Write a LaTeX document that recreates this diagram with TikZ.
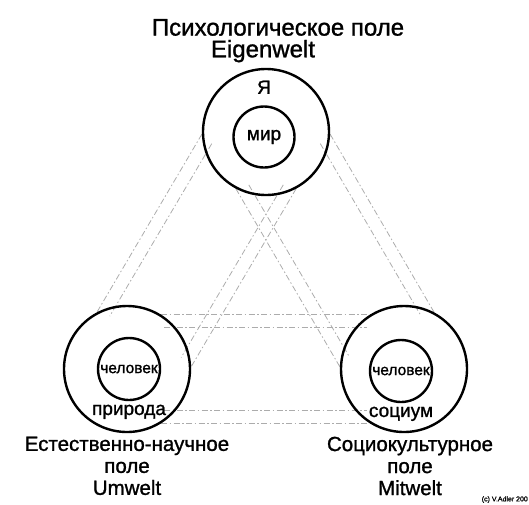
\documentclass[tikz,border=0pt]{standalone}
\usepackage{fontspec}
\setmainfont{Liberation Sans}[FakeBold=1.2]
\usepackage{tikz}
\usetikzlibrary{positioning}
\usetikzlibrary{backgrounds}
\tikzset{ring/.style={circle,draw,line width=2.4pt,inner sep=0pt}}
\tikzset{link/.style={draw=gray!65,line width=0.8pt,dash pattern=on 6pt off 2.5pt on 1.5pt off 2.5pt}}
\tikzset{deep/.style={link,shorten <=-12pt,shorten >=-12pt}}
\newcommand{\fs}[1]{\fontsize{#1}{#1}\selectfont}

\begin{document}
\begin{tikzpicture}[x=1pt,y=-1pt]
            \useasboundingbox (0,0) rectangle (529,504);
            \node (Eout) [ring,minimum size=126pt] at (266,132) {};
            \node (Ein)  [ring,minimum size=61pt]  at (264,137) {\fs{19}мир};
            \node (Uout) [ring,minimum size=126pt] at (127,369) {};
            \node (Uin)  [ring,minimum size=62pt]  at (129,369) {\fs{15.5}человек};
            \node (Mout) [ring,minimum size=126pt] at (404,369) {};
            \node (Min)  [ring,minimum size=62pt]  at (401,371) {\fs{15.5}человек};

            \node (self)    [above=8pt of Ein]                {\fs{19}Я};
            \node (nature)  [below=0pt of Uin]                {\fs{19}природа};
            \node (society) [below=0pt of Min]                {\fs{19}социум};

            \node (Ename)  [above=2pt of Eout,xshift=-3pt]    {\fs{24}Eigenwelt};
            \node (Etitle) [above=-3pt of Ename,xshift=15pt]  {\fs{24}Психологическое поле};
            \node (Uname)  [below=0pt of Uout,align=center,font=\fontsize{20.5}{22}\selectfont]
                           {Естественно-научное\\поле\\Umwelt};
            \node (Mname)  [below=0pt of Mout,xshift=6pt,align=center,font=\fontsize{20.5}{22}\selectfont]
                           {Социокультурное\\поле\\Mitwelt};
            \node (copy) [anchor=south east,inner sep=1pt] at (529,504) {\fs{7}(c) V.Adler 200};

            \begin{scope}[on background layer]
                \draw[link] (Eout.182) -- (Uout.118);
                \draw[deep] (Eout.200) -- (Uout.100);
                \draw[deep] (Eout.280) -- (Uout.20);
                \draw[link] (Eout.298) -- (Uout.2);
                \draw[link] (Eout.242) -- (Mout.178);
                \draw[deep] (Eout.260) -- (Mout.160);
                \draw[deep] (Eout.340) -- (Mout.80);
                \draw[link] (Eout.358) -- (Mout.62);
                \draw[link] (Uout.58)  -- (Mout.122);
                \draw[deep] (Uout.40)  -- (Mout.140);
                \draw[deep] (Uout.320) -- (Mout.220);
                \draw[link] (Uout.302) -- (Mout.238);
            \end{scope}
        \end{tikzpicture}
\end{document}
